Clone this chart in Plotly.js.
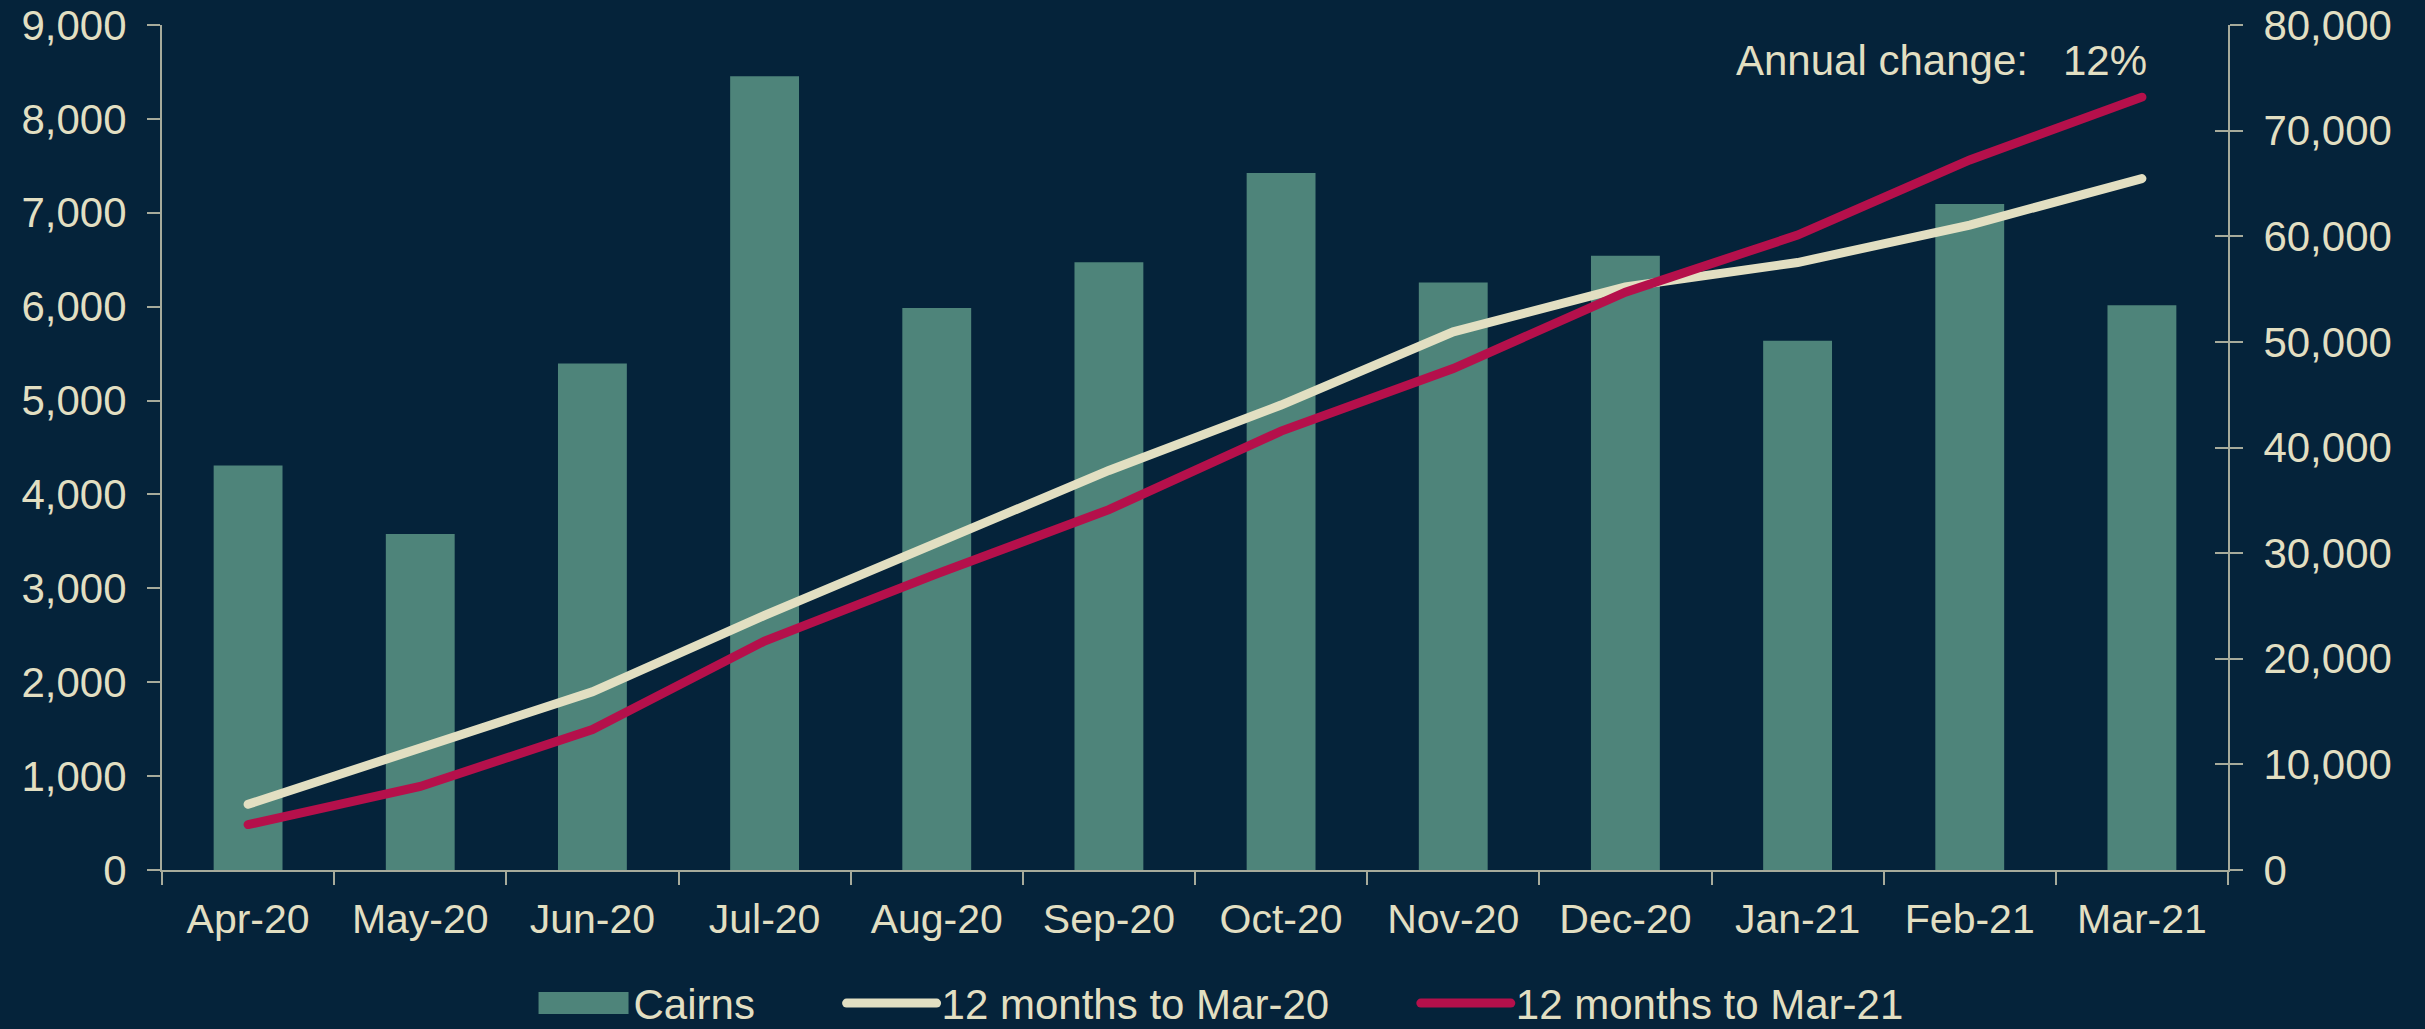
<!DOCTYPE html>
<html>
<head>
<meta charset="utf-8">
<script src="https://cdn.plot.ly/plotly-3.0.1.min.js"></script>
<style>
  html, body { margin: 0; padding: 0; background: #05233a; }
  #chart { width: 2425px; height: 1029px; }
  .js-line { stroke-linecap: round; }
  .legend .traces:first-child .js-line { stroke-width: 22px !important; stroke-linecap: butt; }
</style>
</head>
<body>
<div id="chart"></div>
<script>
// Categories (months)
const months = ["Apr-20", "May-20", "Jun-20", "Jul-20", "Aug-20", "Sep-20",
                "Oct-20", "Nov-20", "Dec-20", "Jan-21", "Feb-21", "Mar-21"];

// Monthly values for Cairns (left axis)
const cairns = [4309, 3580, 5394, 8455, 5987, 6474, 7425, 6257, 6543, 5637, 7094, 6014];

// Cumulative 12 months to Mar-20 (right axis)
const cum2020 = [6220, 11530, 16870, 24100, 30900, 37830, 44020, 50950, 55210, 57510, 61060, 65460];

// Cumulative 12 months to Mar-21 (right axis)
const cum2021 = [4298, 7914, 13290, 21680, 28030, 34120, 41550, 47470, 54710, 60110, 67220, 73170];

// Legend names
const seriesNames = ["Cairns", "12 months to Mar-20", "12 months to Mar-21"];

const annualChange = "12%";

const BG = "#05233a";
const CREAM = "#e2dfc2";
const TEAL = "#4e847a";
const RED = "#b5104b";
const AXIS = "#a7ab9b";
const FONT = "'Liberation Sans', Arial, sans-serif";
const GAP = "\u00a0".repeat(7);

const traces = [
  {
    type: "bar", x: months, y: cairns, name: seriesNames[0],
    marker: { color: TEAL, line: { width: 0 } },
    yaxis: "y", showlegend: false
  },
  // legend swatch for the bar series (draws nothing in the plot)
  {
    type: "scatter", mode: "lines", x: months, y: cairns.map(() => null),
    name: seriesNames[0] + GAP, line: { color: TEAL, width: 22 }, yaxis: "y",
    legendrank: 1
  },
  {
    type: "scatter", mode: "lines", x: months, y: cum2020, name: seriesNames[1] + GAP,
    line: { color: CREAM, width: 9 }, yaxis: "y2", legendrank: 2
  },
  {
    type: "scatter", mode: "lines", x: months, y: cum2021, name: seriesNames[2],
    line: { color: RED, width: 9 }, yaxis: "y2", legendrank: 3
  },
  // ticks-only overlay axis (inner half of the cross ticks on the right axis)
  {
    type: "scatter", mode: "lines", x: months, y: cum2020.map(() => null),
    yaxis: "y3", showlegend: false, hoverinfo: "skip"
  }
];

const layout = {
  width: 2425, height: 1029,
  paper_bgcolor: BG, plot_bgcolor: BG,
  margin: { l: 162, r: 197, t: 25, b: 159, autoexpand: false },
  font: { family: FONT, color: CREAM, size: 42 },
  bargap: 0.6,
  showlegend: true,
  legend: {
    orientation: "h", xref: "paper", x: 0.5126, xanchor: "center",
    yref: "container", y: 0.025, yanchor: "middle",
    font: { family: FONT, color: CREAM, size: 42 },
    bgcolor: "rgba(0,0,0,0)", itemwidth: 90, traceorder: "normal"
  },
  xaxis: {
    type: "category", showgrid: false, zeroline: false, automargin: false,
    showline: true, linecolor: AXIS, linewidth: 2,
    ticks: "outside", tickson: "boundaries", ticklen: 13, tickcolor: AXIS, tickwidth: 2,
    tickfont: { family: FONT, color: CREAM, size: 41 },
    ticklabelstandoff: 12
  },
  yaxis: {
    range: [0, 9000], dtick: 1000, tickformat: ",d", automargin: false,
    showgrid: false, zeroline: false,
    showline: true, linecolor: AXIS, linewidth: 2,
    ticks: "outside", ticklen: 13, tickcolor: AXIS, tickwidth: 2,
    tickfont: { family: FONT, color: CREAM, size: 42 },
    ticklabelstandoff: 12
  },
  yaxis2: {
    overlaying: "y", side: "right", automargin: false,
    range: [0, 80000], dtick: 10000, tickformat: ",d",
    showgrid: false, zeroline: false,
    showline: true, linecolor: AXIS, linewidth: 2,
    ticks: "outside", ticklen: 13, tickcolor: AXIS, tickwidth: 2,
    tickfont: { family: FONT, color: CREAM, size: 42 },
    ticklabelstandoff: 12
  },
  yaxis3: {
    overlaying: "y", side: "right", anchor: "x", automargin: false,
    range: [0, 80000], dtick: 10000,
    showgrid: false, zeroline: false, showline: false,
    ticks: "inside", ticklen: 13, tickcolor: AXIS, tickwidth: 2,
    showticklabels: false
  },
  annotations: [
    {
      xref: "paper", yref: "paper", x: 0.9618, y: 0.9574,
      xanchor: "right", yanchor: "middle", showarrow: false,
      text: "Annual change:\u00a0\u00a0\u00a0" + annualChange,
      font: { family: FONT, color: CREAM, size: 42 }
    }
  ]
};

Plotly.newPlot("chart", traces, layout, { displayModeBar: false, staticPlot: true });
</script>
</body>
</html>
